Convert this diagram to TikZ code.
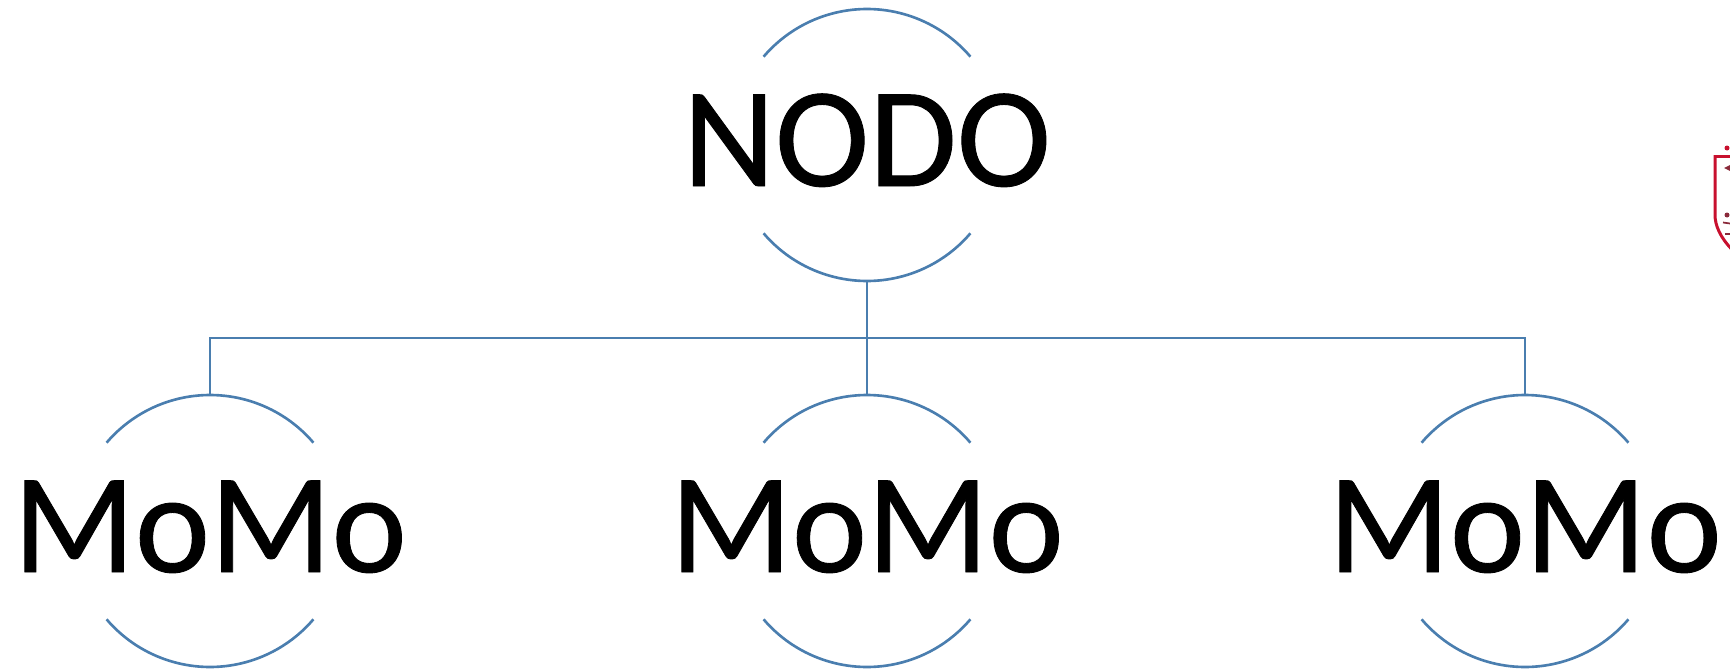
\documentclass[tikz,border=0pt]{standalone}
\usepackage{fontspec}
\setmainfont[FakeBold=0.6]{Carlito}
\definecolor{ringblue}{HTML}{4A7EAF}
\definecolor{crestred}{HTML}{C8102E}
\definecolor{crestdark}{HTML}{8A2A3A}
\tikzset{
    ring/.style={minimum height=5.44cm,inner sep=0pt,text height=1.64cm,text depth=0pt,font=\fontsize{81}{97}\selectfont},
    arcline/.style={draw=ringblue,line width=1.5pt},
    busline/.style={draw=ringblue,line width=1.5pt}
}
\begin{document}
\begin{tikzpicture}
    \useasboundingbox (0,0) rectangle (34.6,-13.42);

    \node[ring] (NODO) at (17.34,-2.9) {NODO};
    \node[ring] (MoMoA) at (4.2,-10.62) {MoMo};
    \node[ring] (MoMoB) at (17.34,-10.62) {MoMo};
    \node[ring] (MoMoC) at (30.5,-10.62) {MoMo};
    \coordinate (bus) at (17.34,-6.76);

    \foreach \n in {NODO,MoMoA,MoMoB,MoMoC} {
        \draw[arcline] (\n.center) ++(40.5:2.72) arc[start angle=40.5,end angle=139.5,radius=2.72];
        \draw[arcline] (\n.center) ++(220.5:2.72) arc[start angle=220.5,end angle=319.5,radius=2.72];
    }

    \draw[busline] (NODO.south) -- (bus);
    \draw[busline] (bus) -| (MoMoA.north);
    \draw[busline] (bus) -- (MoMoB.north);
    \draw[busline] (bus) -| (MoMoC.north);

    % crest, cut off by the page edge
    \begin{scope}
        \clip (34.2,-2.7) rectangle (34.6,-5.2);
        \draw[crestred,line width=1.7pt] (34.75,-3.13) -- (34.3,-3.13) -- (34.3,-4.3) .. controls (34.3,-4.5) and (34.4,-4.75) .. (34.65,-5.0);
        \fill[crestred] (34.54,-2.96) circle (0.05);
        \fill[crestdark] (34.6,-3.3) -- (34.48,-3.36) -- (34.6,-3.42) -- cycle;
        \fill[crestdark] (34.54,-4.3) circle (0.05);
        \draw[crestdark,line width=1pt] (34.46,-4.45) -- (34.6,-4.47);
        \draw[crestdark,line width=1pt] (34.5,-4.68) -- (34.6,-4.68);
    \end{scope}
\end{tikzpicture}
\end{document}
